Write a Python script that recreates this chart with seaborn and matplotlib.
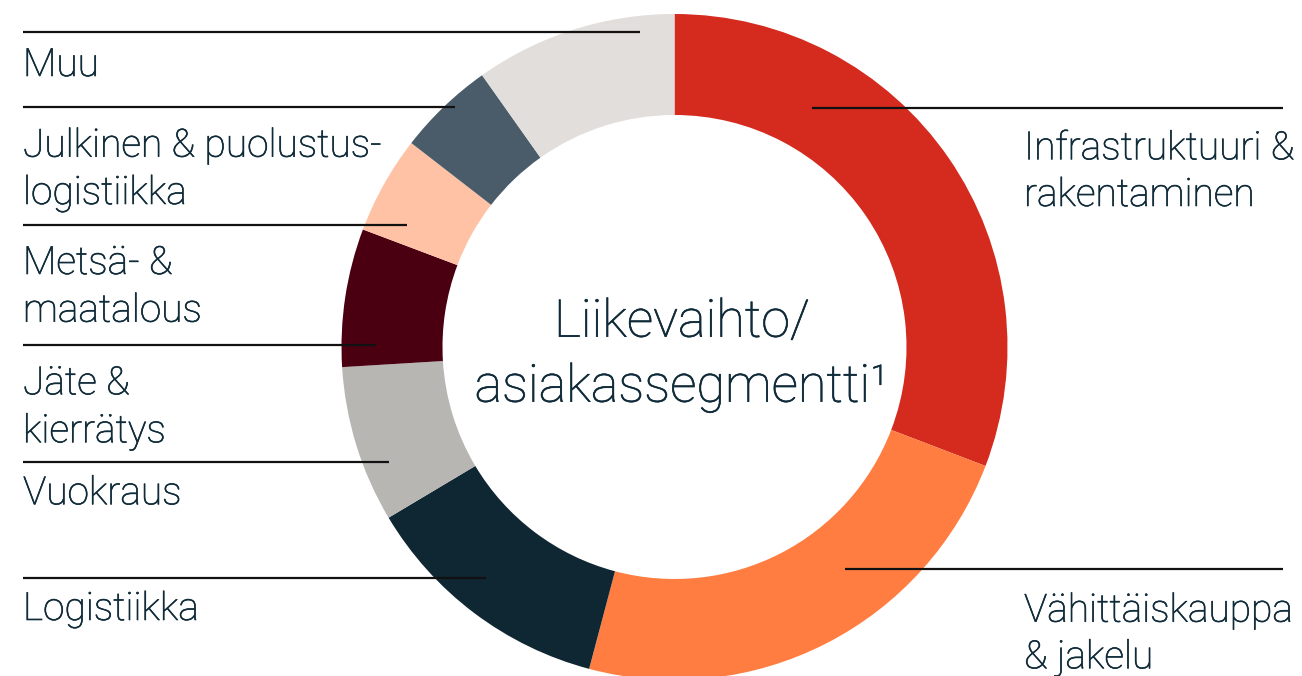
import matplotlib
matplotlib.use("Agg")
import matplotlib.pyplot as plt
import matplotlib.patheffects as pe
import seaborn as sns

# ---- data (clockwise from 12 o'clock) ----
segments = ["Infrastruktuuri & rakentaminen", "Vähittäiskauppa & jakelu", "Logistiikka",
            "Vuokraus", "Jäte & kierrätys", "Metsä- & maatalous",
            "Julkinen & puolustuslogistiikka", "Muu"]
shares = [30.8, 23.3, 12.3, 7.6, 6.7, 4.75, 4.7, 9.8]
colors = ["#D42B1E", "#FF7D41", "#0F2633", "#B8B6B2", "#4A0011", "#FFC2A5", "#4A5C69", "#E1DEDB"]

left_labels = ["Muu", "Julkinen & puolustus-\nlogistiikka", "Metsä- &\nmaatalous",
               "Jäte &\nkierrätys", "Vuokraus", "Logistiikka"]
right_labels = ["Infrastruktuuri &\nrakentaminen", "Vähittäiskauppa\n& jakelu"]
center_title = ["Liikevaihto/", "asiakassegmentti¹"]

# ---- layout (pixels, top-left origin) ----
W, H = 1302, 676
CX, CY, R, RIN = 674.5, 347, 333, 232
TXT = "#0F2A38"

left_lines = [(32.3, 640), (107, 455), (225, 407), (344.7, 376), (462.3, 389), (578, 486)]
left_baselines = [[76], [156.7, 204], [274, 321.7], [394.3, 442.3], [504.3], [620]]
right_lines = [(107.7, 812), (569.3, 845)]
right_baselines = [[159.3, 206], [621.7, 668.3]]

sns.set_theme(style="white")
plt.rcParams["font.family"] = ["Roboto", "DejaVu Sans"]
palette = sns.color_palette(colors)

fig = plt.figure(figsize=(W / 100, H / 100), dpi=100)
ax = fig.add_axes([0, 0, 1, 1])

ax.pie(shares, colors=palette, startangle=90, counterclock=False,
       center=(CX, H - CY), radius=R,
       wedgeprops=dict(width=R - RIN, linewidth=0, antialiased=True))
ax.set_xlim(0, W)
ax.set_ylim(0, H)
ax.set_aspect("equal")
ax.axis("off")

def y(p):
    return H - p

fs = 28
WT = "light"
thick = [pe.withStroke(linewidth=0.45, foreground=TXT)]
for (ly, lx), lab, bls in zip(left_lines, left_labels, left_baselines):
    ax.plot([23, lx], [y(ly), y(ly)], color="#111111", lw=1.6, solid_capstyle="butt", zorder=5)
    for line, b in zip(lab.split("\n"), bls):
        ax.text(23, y(b), line, fontsize=fs, fontweight=WT, color=TXT,
                ha="left", va="baseline", zorder=6, path_effects=thick)

for (ly, lx), lab, bls in zip(right_lines, right_labels, right_baselines):
    ax.plot([lx, 1283], [y(ly), y(ly)], color="#111111", lw=1.6, solid_capstyle="butt", zorder=5)
    for line, b in zip(lab.split("\n"), bls):
        ax.text(1024, y(b), line, fontsize=fs, fontweight=WT, color=TXT,
                ha="left", va="baseline", zorder=6, path_effects=thick)

for line, b in zip(center_title, [336.7, 401.7]):
    ax.text(682, y(b), line, fontsize=37.5, fontweight=WT, color=TXT,
            ha="center", va="baseline", zorder=6, path_effects=thick)

fig.savefig("out.png", dpi=100, facecolor="white")
